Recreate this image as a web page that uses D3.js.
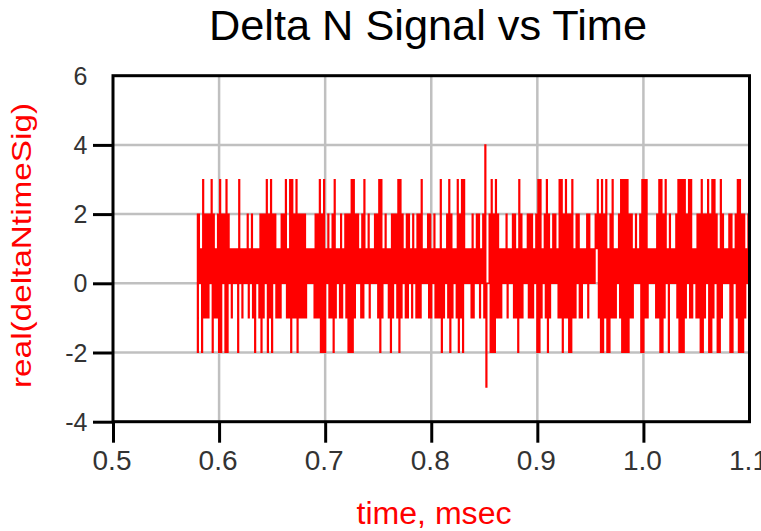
<!DOCTYPE html>
<html>
<head>
<meta charset="utf-8">
<script src="https://cdn.jsdelivr.net/npm/d3@7"></script>
<style>
  html, body { margin: 0; padding: 0; background: #ffffff; }
  svg { display: block; }
</style>
</head>
<body>
<svg id="chart" width="761" height="531"></svg>
<script>
// Labels and ticks
const chartTitle = "Delta N Signal vs Time";
const xAxisTitle = "time, msec";
const yAxisTitle = "real(deltaNtimeSig)";
const xTicks = [0.5, 0.6, 0.7, 0.8, 0.9, 1.0, 1.1];
const xTickLabels = ["0.5", "0.6", "0.7", "0.8", "0.9", "1.0", "1.1"];
const yTicks = [-4, -2, 0, 2, 4, 6];
const yTickLabels = ["-4", "-2", "0", "2", "4", "6"];

// Sampling grid of the modulator output (msec)
const sampleStart = 0.579;
const sampleStep = 0.001;

// real(deltaNtimeSig), one value per sample
const deltaN = [
  2,-2,2,0,1,-2,3,-1,2,-1,2,-1,2,0,3,-2,2,-1,1,-1,
  2,-2,3,-2,2,0,2,-2,3,-2,2,0,1,-1,1,0,1,0,1,-2,
  3,0,1,-1,1,0,1,0,2,-1,1,0,2,-1,1,-2,1,0,1,-1,
  2,-2,2,-1,2,0,3,-2,2,-1,3,-2,2,0,2,-1,1,-1,1,-1,
  2,0,2,0,3,-1,1,-1,3,-2,3,-1,2,-1,3,-2,2,-1,2,-1,
  2,-1,2,-1,1,0,1,0,1,0,1,-1,2,-1,2,-1,3,-2,2,-2,
  3,-2,1,0,2,-1,1,-1,2,-2,3,-1,1,0,1,-1,2,-1,1,0,
  2,-1,2,-2,2,-2,3,-2,3,-1,2,0,2,0,1,-1,2,-1,3,0,
  1,0,2,-1,1,0,1,0,2,0,2,-1,3,-2,3,-1,1,0,2,0,
  1,-1,1,-2,2,-1,2,0,2,-1,3,-2,3,-1,2,0,1,-1,2,-1,
  2,0,1,-1,2,0,1,-1,2,-1,2,-1,3,0,1,0,1,0,2,-1,
  2,-1,1,0,2,-1,1,-1,1,-1,3,-2,1,-1,1,0,2,-1,3,-2,
  2,-1,1,0,1,-1,3,-2,2,-1,3,-2,3,0,1,0,1,0,1,-1,
  2,-1,1,0,2,0,2,-1,1,0,2,-1,4,-3,0,0,2,-2,3,-2,
  2,-2,3,-1,2,-1,1,-1,1,0,1,0,2,-1,1,0,1,0,2,-1,
  2,-1,1,-2,3,-1,2,-1,1,0,1,0,2,-1,2,-1,2,-1,1,0,
  2,-2,3,-2,3,-1,1,0,2,-1,3,-2,2,-1,1,0,2,0,2,0,
  1,-1,3,-1,3,-2,2,-1,3,-1,2,-2,2,-2,3,-1,1,-1,2,0,
  2,-1,1,-1,1,0,1,0,2,-1,2,0,1,0,1,0,2,1,3,-1,
  2,-2,3,-2,2,-1,3,-2,1,-2,2,-1,3,-1,1,-1,1,0,2,-1,
  3,-2,3,-2,3,-2,3,-2,2,-1,2,-1,1,0,2,0,1,0,2,-2,
  3,-2,3,-1,3,-1,1,0,1,0,1,0,1,-1,2,-1,3,-2,3,-2,
  2,-1,3,0,1,-2,2,0,1,0,1,0,2,-1,3,-2,3,-2,3,-2,
  3,-1,2,0,3,-1,3,-1,1,0,1,-1,2,-1,2,-2,3,-2,2,-1,
  2,0,3,-2,2,-2,3,-1,3,0,2,-2,1,-2,3,-1,2,0,1,0,
  1,0,2,-2,2,-2,1,0,2,-1,3,-2,3,-2,2,-2,2,-1,1,0,
  2,-1
];
const time = deltaN.map((_, i) => sampleStart + i * sampleStep);

const svg = d3.select("#chart");
const plot = { left: 113, right: 749.5, top: 75.7, bottom: 421.7 };

const x = d3.scaleLinear().domain([0.5, 1.1]).range([plot.left, plot.right]);
const y = d3.scaleLinear().domain([-4, 6]).range([plot.bottom, plot.top]);

svg.append("rect").attr("width", 761).attr("height", 531).attr("fill", "#ffffff");

// Grid
const grid = svg.append("g").attr("stroke", "#c0c0c0").attr("stroke-width", 2.5);
grid.selectAll("line.vx")
  .data(xTicks.slice(1, -1))
  .join("line")
  .attr("x1", d => x(d)).attr("x2", d => x(d))
  .attr("y1", plot.top).attr("y2", plot.bottom);
grid.selectAll("line.hy")
  .data(yTicks.slice(1, -1))
  .join("line")
  .attr("y1", d => y(d)).attr("y2", d => y(d))
  .attr("x1", plot.left).attr("x2", plot.right);

// Signal trace (sample-and-hold steps)
svg.append("clipPath").attr("id", "plot-clip")
  .append("rect")
  .attr("x", plot.left).attr("y", plot.top)
  .attr("width", plot.right - plot.left).attr("height", plot.bottom - plot.top);

const line = d3.line()
  .x((d, i) => x(time[i]))
  .y(d => y(d))
  .curve(d3.curveStep);

svg.append("path")
  .datum(deltaN)
  .attr("clip-path", "url(#plot-clip)")
  .attr("fill", "none")
  .attr("stroke", "#ff0000")
  .attr("stroke-width", 1.15)
  .attr("d", line);

// Axes (tick marks on all but the last value)
const xAxis = svg.append("g")
  .attr("transform", `translate(0,${plot.bottom})`)
  .call(d3.axisBottom(x).tickValues(xTicks).tickSize(21).tickFormat((d, i) => xTickLabels[i]));
const yAxis = svg.append("g")
  .attr("transform", `translate(${plot.left},0)`)
  .call(d3.axisLeft(y).tickValues(yTicks).tickSize(20).tickFormat((d, i) => yTickLabels[i]));

[xAxis, yAxis].forEach(g => {
  g.select(".domain").remove();
  g.selectAll(".tick line").attr("stroke", "#000").attr("stroke-width", 3);
  g.selectAll(".tick text")
    .attr("fill", "#333333")
    .attr("font-family", "'Liberation Sans', Arial, sans-serif");
});
xAxis.selectAll(".tick").filter(d => d === 1.1).select("line").remove();
yAxis.selectAll(".tick").filter(d => d === 6).select("line").remove();

xAxis.selectAll(".tick text")
  .attr("font-size", 28)
  .attr("y", 48.3).attr("dy", null)
  .attr("dx", -1.5);
yAxis.selectAll(".tick text")
  .attr("font-size", 25)
  .attr("x", -25.5).attr("dy", "0.34em");

// Frame
svg.append("rect")
  .attr("x", plot.left).attr("y", plot.top)
  .attr("width", plot.right - plot.left).attr("height", plot.bottom - plot.top)
  .attr("fill", "none").attr("stroke", "#000").attr("stroke-width", 3);

// Titles
svg.append("text")
  .attr("x", 428).attr("y", 40)
  .attr("text-anchor", "middle")
  .attr("font-family", "'Liberation Sans', Arial, sans-serif")
  .attr("font-size", 42)
  .attr("fill", "#000")
  .attr("textLength", 438).attr("lengthAdjust", "spacingAndGlyphs")
  .text(chartTitle);

svg.append("text")
  .attr("x", 434).attr("y", 524)
  .attr("text-anchor", "middle")
  .attr("font-family", "'Liberation Sans', Arial, sans-serif")
  .attr("font-size", 31)
  .attr("fill", "#ff0000")
  .attr("textLength", 155).attr("lengthAdjust", "spacingAndGlyphs")
  .text(xAxisTitle);

svg.append("text")
  .attr("transform", "translate(31,245.5) rotate(-90)")
  .attr("text-anchor", "middle")
  .attr("font-family", "'Liberation Sans', Arial, sans-serif")
  .attr("font-size", 28)
  .attr("fill", "#ff0000")
  .attr("textLength", 285).attr("lengthAdjust", "spacingAndGlyphs")
  .text(yAxisTitle);
</script>
</body>
</html>
